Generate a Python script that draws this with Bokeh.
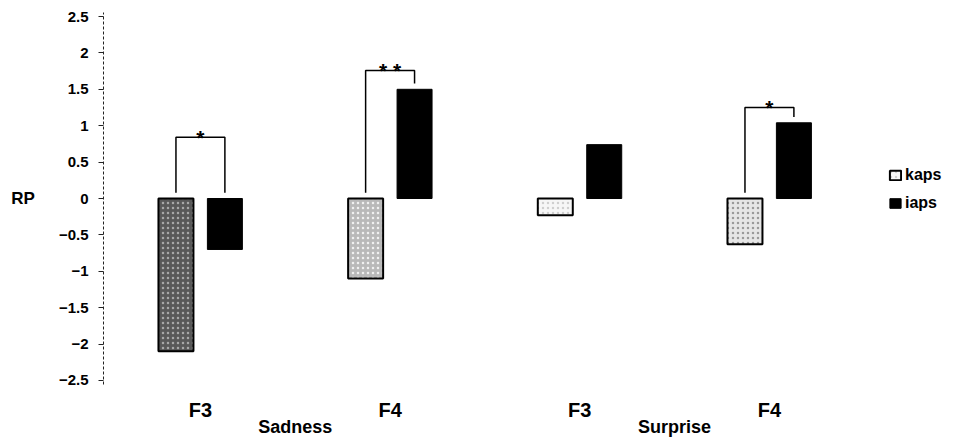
from bokeh.plotting import figure
from bokeh.models import (ColumnDataSource, Range1d, LinearAxis, FixedTicker,
                          Legend, LegendItem)
from bokeh.core.properties import value
from bokeh.embed import file_html
from bokeh.resources import INLINE

# ---- data ----
groups = ["F3", "F4", "F3", "F4"]
emotions = ["Sadness", "Surprise"]
emotion_pos = [0.5, 2.5]
kaps = [-2.1, -1.1, -0.23, -0.63]
iaps = [-0.7, 1.5, 0.74, 1.04]
sig_groups = [0, 1, 3]
sig_marks = ["*", "* *", "*"]
bracket_top = [0.84, 1.76, 1.25]
y_ticks = [-2.5, -2, -1.5, -1, -0.5, 0, 0.5, 1, 1.5, 2, 2.5]
y_tick_labels = ["\u22122.5", "\u22122", "\u22121.5", "\u22121", "\u22120.5", "0",
                 "0.5", "1", "1.5", "2", "2.5"]

# ---- style ----
kaps_fill = ["#585858", "#b9b9b9", "#f6f6f6", "#e6e6e6"]
kaps_hatch = ["dot", "dot", "dot", "dot"]
kaps_hcolor = ["#a8a8a8", "#f0f0f0", "#cfcfcf", "#9a9a9a"]
FONT = "Liberation Sans"
BW = 0.1845
OFF = 0.129
GAP = 0.08

centers = list(range(len(groups)))

p = figure(frame_width=852, frame_height=396, x_range=Range1d(-0.511, 3.981),
           y_range=Range1d(-2.72, 2.72), output_backend="svg",
           toolbar_location=None, min_border=0, min_border_left=103,
           x_axis_type=None, y_axis_type=None, outline_line_color=None)
p.grid.grid_line_color = None

yaxis = LinearAxis(ticker=FixedTicker(ticks=y_ticks),
                   major_label_overrides={t: l for t, l in zip(y_ticks, y_tick_labels)},
                   axis_label="RP", axis_label_orientation="horizontal",
                   bounds=(-2.55, 2.55))
yaxis.major_tick_out = 5
yaxis.major_tick_in = 0
yaxis.minor_tick_out = 0
yaxis.minor_tick_in = 0
yaxis.major_label_standoff = 10
yaxis.axis_line_color = "#222222"
yaxis.axis_line_dash = "3 2"
yaxis.major_tick_line_color = "#222222"
yaxis.major_label_text_font = FONT
yaxis.major_label_text_font_size = "15px"
yaxis.major_label_text_font_style = "bold"
yaxis.major_label_text_color = "black"
yaxis.axis_label_standoff = 21
yaxis.axis_label_text_font = FONT
yaxis.axis_label_text_font_size = "17px"
yaxis.axis_label_text_font_style = "bold"
yaxis.axis_label_text_color = "black"
p.add_layout(yaxis, "left")

# bottom: factor labels and emotion labels
xaxis1 = LinearAxis(ticker=FixedTicker(ticks=centers),
                    major_label_overrides={c: g for c, g in zip(centers, groups)})
xaxis2 = LinearAxis(ticker=FixedTicker(ticks=emotion_pos),
                    major_label_overrides={e: n for e, n in zip(emotion_pos, emotions)})
for ax, size, standoff in ((xaxis1, "20px", 2), (xaxis2, "18px", -7)):
    ax.axis_line_color = None
    ax.major_tick_line_color = None
    ax.minor_tick_line_color = None
    ax.major_tick_out = 0
    ax.major_tick_in = 0
    ax.minor_tick_out = 0
    ax.minor_tick_in = 0
    ax.major_label_standoff = standoff
    ax.major_label_text_font = FONT
    ax.major_label_text_font_size = size
    ax.major_label_text_font_style = "bold"
    ax.major_label_text_color = "black"
p.add_layout(xaxis1, "below")
p.add_layout(xaxis2, "below")

src_k = ColumnDataSource(dict(x=[c - OFF for c in centers], v=kaps, fill=kaps_fill,
                              hatch=kaps_hatch, hcolor=kaps_hcolor))
src_i = ColumnDataSource(dict(x=[c + OFF for c in centers], v=iaps))

rk = p.vbar(x="x", top="v", bottom=0, width=BW, source=src_k, fill_color="fill",
            line_color="black", line_width=2, hatch_pattern="hatch",
            hatch_color="hcolor", hatch_scale=5, hatch_weight=1.6)
ri = p.vbar(x="x", top="v", bottom=0, width=BW, source=src_i, fill_color="black",
            line_color="black", line_width=1)

# significance brackets
xs, ys = [], []
for g, top in zip(sig_groups, bracket_top):
    xl, xr = g - OFF, g + OFF
    yl = max(kaps[g], 0) + GAP
    yr = max(iaps[g], 0) + GAP
    xs.append([xl, xl, xr, xr])
    ys.append([yl, top, top, yr])
p.multi_line(xs=xs, ys=ys, line_color="black", line_width=1.5)
p.text(x=sig_groups, y=bracket_top, text=sig_marks, text_align="center",
       text_baseline="alphabetic", text_font=value(FONT), text_font_size="21px",
       text_font_style="bold", text_color="black")

legend = Legend(items=[LegendItem(label="kaps", renderers=[rk], index=2),
                       LegendItem(label="iaps", renderers=[ri], index=0)],
                location=(785, 184), glyph_width=14, glyph_height=12,
                label_standoff=3, spacing=10, padding=0, margin=0,
                label_height=12, border_line_alpha=0, background_fill_alpha=0,
                label_text_font=FONT, label_text_font_size="16px",
                label_text_font_style="bold", label_text_color="black")
p.add_layout(legend)

open("out.html", "w").write(file_html(p, INLINE))
